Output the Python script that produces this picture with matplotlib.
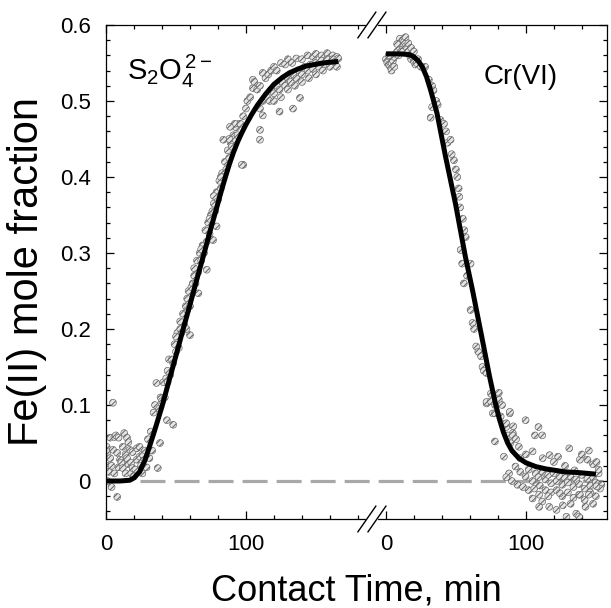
import matplotlib
matplotlib.use("Agg")
import matplotlib.pyplot as plt
import matplotlib.transforms as mtransforms
from matplotlib.ticker import MultipleLocator, FixedLocator, FixedFormatter
import numpy as np

plt.rcParams['font.family'] = ['Liberation Sans', 'DejaVu Sans']
plt.rcParams['mathtext.fontset'] = 'custom'
plt.rcParams['mathtext.rm'] = 'Liberation Sans'
plt.rcParams['mathtext.it'] = 'Liberation Sans'
plt.rcParams['lines.scale_dashes'] = False
plt.rcParams['hatch.linewidth'] = 0.7

# ---------------- data ----------------
# fitted curves (time in min, Fe(II) mole fraction)
s2o4_curve_t = [0, 10, 17, 20, 24, 28, 31, 34, 37, 40, 44, 50, 55, 60, 65, 70, 75, 79,
                82, 85, 88, 91, 94, 97, 100, 104, 108, 114, 120, 126, 131, 137, 143, 149,
                155, 160, 166]
s2o4_curve_y = [0, 0, 0.001, 0.004, 0.012, 0.028, 0.045, 0.062, 0.08, 0.098, 0.125, 0.165,
                0.199, 0.232, 0.266, 0.299, 0.333, 0.359, 0.379, 0.398, 0.416, 0.432, 0.446,
                0.458, 0.469, 0.482, 0.494, 0.509, 0.522, 0.531, 0.537, 0.542, 0.546, 0.548,
                0.55, 0.551, 0.552]

cr_curve_t = [0, 10, 17, 20, 23, 26, 29, 32, 36.5, 42.6, 49.7, 56.8, 62, 69, 74, 78, 81,
              84, 87, 90, 95, 100, 107, 114, 121, 128, 138, 150]
cr_curve_y = [0.562, 0.562, 0.561, 0.558, 0.553, 0.545, 0.532, 0.514, 0.484, 0.427, 0.365,
              0.295, 0.25, 0.185, 0.138, 0.104, 0.082, 0.064, 0.05, 0.04, 0.03, 0.024, 0.019,
              0.016, 0.014, 0.012, 0.011, 0.009]

# measured points (t, y)
s2o4_points = [
    (0.5, 0.045), (1, 0.038), (1, 0.02), (1, 0.0), (2, 0.015), (2, 0.012), (3, 0.057), (3, 0.03),
    (4, 0.02), (4, -0.008), (5, 0.041), (5, 0.103), (6, 0.058), (6, 0.01), (7, 0.06), (8, 0.037),
    (8, -0.021), (9, 0.057), (9, 0.018), (10, 0.028), (11, 0.024), (12, 0.017), (12, 0.045),
    (13, 0.063), (14, 0.035), (14, 0.01), (15, 0.057), (15, 0.03), (16, 0.051), (16, 0.022),
    (17, 0.041), (18, 0.024), (18, 0.01), (19, 0.038), (19, 0.017), (20, 0.006), (21, 0.015),
    (22, 0.043), (22, 0.028), (24, 0.045), (24, 0.032), (25, 0.02), (26, 0.01), (27, 0.03),
    (29, 0.018), (30, 0.055), (32, 0.065), (33, 0.04), (34, 0.09), (35, 0.1), (36, 0.129),
    (37, 0.017), (38.6, 0.05), (43.5, 0.08), (48, 0.074), (26, 0.035), (28, 0.04), (31, 0.03),
    (38, 0.095), (39, 0.11), (40, 0.105), (41, 0.13), (42, 0.11), (43, 0.135), (44, 0.13),
    (45, 0.16), (46, 0.14), (47, 0.16), (48, 0.155), (49, 0.18), (50, 0.17), (51, 0.195),
    (52, 0.175), (53, 0.2), (54, 0.195), (55, 0.22), (56, 0.205), (57, 0.23), (58, 0.225),
    (59, 0.25), (60, 0.23), (61, 0.255), (62, 0.26), (63, 0.27), (64, 0.26), (65, 0.29),
    (66, 0.275), (67, 0.3), (68, 0.29), (69, 0.31), (70, 0.3), (71, 0.33), (72, 0.315),
    (73, 0.34), (74, 0.325), (75, 0.35), (76, 0.355), (77, 0.365), (78, 0.355), (79, 0.38),
    (80, 0.37), (81, 0.395), (82, 0.385), (83, 0.405), (84, 0.4), (85, 0.42), (86, 0.41),
    (87, 0.435), (88, 0.425), (89, 0.445), (90, 0.44), (91, 0.455), (92, 0.45), (93, 0.465),
    (94, 0.455), (95, 0.47),
    (44, 0.145), (50, 0.19), (53, 0.21), (58, 0.24), (63, 0.28), (68, 0.305), (74, 0.345),
    (77, 0.375), (82, 0.4), (88, 0.45), (92, 0.47),
    (98, 0.416), (79, 0.335), (76.5, 0.317), (72, 0.278), (66, 0.247), (60, 0.192),
    (57.5, 0.2), (88.6, 0.466), (83.8, 0.449),
    (96, 0.47), (98, 0.48), (100, 0.49), (101, 0.5), (103, 0.505), (105, 0.517), (105, 0.528),
    (106, 0.525), (108, 0.515), (110, 0.52), (112, 0.537), (114, 0.53), (116, 0.535),
    (118, 0.54), (120, 0.545), (122, 0.54), (125, 0.55), (128, 0.548), (130, 0.555),
    (133, 0.55), (136, 0.556), (140, 0.555), (144, 0.56), (148, 0.558), (150, 0.562),
    (154, 0.56), (158, 0.563), (162, 0.56), (165, 0.558),
    (110, 0.49), (112, 0.5), (115, 0.505), (117, 0.5), (118, 0.515), (120, 0.51), (122, 0.52),
    (124, 0.515), (126, 0.525), (128, 0.52), (130, 0.53), (132, 0.525), (134, 0.535),
    (136, 0.53), (138, 0.54), (140, 0.535), (142, 0.545), (144, 0.54), (146, 0.548),
    (148, 0.542), (150, 0.55), (152, 0.545), (154, 0.553), (156, 0.548), (158, 0.555),
    (160, 0.55), (162, 0.555), (164, 0.552), (166, 0.556), (120, 0.5), (125, 0.505),
    (130, 0.515), (135, 0.52), (140, 0.525), (145, 0.53), (150, 0.535), (155, 0.54),
    (160, 0.545), (165, 0.545),
    (138.6, 0.504), (133.6, 0.49), (124, 0.486), (112, 0.481), (110, 0.462), (110, 0.449),
    (97, 0.416),
]

cr_points = [
    (0, 0.555), (1, 0.55), (2, 0.548), (3, 0.545), (4, 0.55), (5, 0.553), (6, 0.558),
    (7, 0.562), (8, 0.565), (9, 0.56), (10, 0.57), (10, 0.582), (11, 0.575), (12, 0.58),
    (12, 0.568), (13, 0.578), (14, 0.572), (14, 0.584), (15, 0.568), (16, 0.565), (16, 0.576),
    (17, 0.56), (18, 0.555), (18, 0.57), (19, 0.558), (20, 0.552), (21, 0.548), (22, 0.55),
    (2, 0.56), (4, 0.54), (6, 0.545), (8, 0.575), (11, 0.565), (20, 0.565), (23, 0.555),
    (25, 0.545),
    (28, 0.545), (30.7, 0.528), (33, 0.52), (34, 0.514), (36, 0.5), (37, 0.495), (33, 0.492),
    (32, 0.478), (39, 0.475), (41.5, 0.47), (43, 0.46), (44, 0.445), (46.2, 0.449), (47, 0.43),
    (48.6, 0.422), (50, 0.41), (51, 0.4), (52, 0.385), (52.4, 0.374), (53, 0.36), (55, 0.345),
    (56, 0.33), (57, 0.321), (53.4, 0.304), (54.5, 0.286), (60.5, 0.286), (55.7, 0.26),
    (58, 0.27), (60.5, 0.225), (61.9, 0.208), (63, 0.2), (64.5, 0.177), (66, 0.17), (68, 0.164),
    (69, 0.15), (70, 0.145), (71.9, 0.142), (80.7, 0.116), (71.9, 0.102), (76.4, 0.089),
    (88.5, 0.089), (85.9, 0.071), (90.7, 0.063), (75, 0.115), (78, 0.1), (82, 0.085),
    (84, 0.075), (87, 0.06), (89, 0.05),
    (71.9, 0.104), (75, 0.105), (80.7, 0.107), (83, 0.1), (77.9, 0.089), (88.6, 0.091),
    (86, 0.076), (91, 0.072), (99.8, 0.08), (77.9, 0.052), (90.7, 0.06), (93, 0.055),
    (95, 0.045), (109, 0.071), (111.7, 0.06), (106.5, 0.06), (84.3, 0.032), (104.8, 0.039),
    (117, 0.034), (123, 0.032), (131, 0.043), (138.6, 0.028), (144, 0.028), (148, 0.022),
    (134.8, 0.014), (150.5, 0.025), (140, 0.035), (145, 0.04), (128, 0.02), (120, 0.025),
    (112, 0.03), (100, 0.035), (96, 0.03),
    (92.6, 0.019), (96, 0.012), (99.8, 0.006), (102, 0.015), (104.8, 0.0), (107, 0.01),
    (109, 0.005), (112, 0.012), (114, 0.002), (116, 0.008), (118.1, -0.003), (120, 0.01),
    (122, 0.0), (124, 0.006), (126, -0.005), (128, 0.004), (130, -0.002), (132, 0.006),
    (134, -0.008), (136, 0.002), (138, -0.004), (140, 0.008), (142, -0.01), (144, 0.003),
    (146, -0.006), (148, 0.005), (150, -0.002), (152, 0.01), (154, -0.005), (88, 0.01),
    (90, 0.0), (86, 0.005), (94, -0.005), (98, -0.008), (102, -0.012), (106, -0.01),
    (110, -0.006), (114, -0.012), (118, -0.015), (122, -0.012), (126, -0.02), (130, -0.015),
    (134, -0.022), (138, -0.018), (142, -0.025), (146, -0.015), (150, -0.02), (153, -0.01),
    (104.8, -0.023), (109.5, -0.018), (111.7, -0.027), (116.7, -0.034), (109.5, -0.034),
    (121.9, -0.038), (126.4, -0.032), (129, -0.047), (136, -0.043), (138, -0.047),
    (142.6, -0.034), (145, -0.018), (148, -0.03), (138.6, -0.018), (132, -0.03),
    (124.3, -0.016), (116, -0.02), (150.5, -0.007), (152, 0.015),
]

baseline_t = [24, 355]      # extent of the dashed zero line (axis units)
baseline_y = [0, 0]

x_tick_labels = ['0', '100', '0', '100']
y_tick_values = [0, 0.1, 0.2, 0.3, 0.4, 0.5, 0.6]
y_tick_labels = ['0', '0.1', '0.2', '0.3', '0.4', '0.5', '0.6']

RIGHT_OFFSET = 200  # where the Cr(VI) panel's t=0 sits on the shared axis

# ---------------- figure ----------------
fig = plt.figure(figsize=(6.11, 6.08), dpi=100)
ax = fig.add_axes([0.1735, 0.1464, 0.82, 0.8125])

ax.plot(baseline_t, baseline_y, color='#a8a8a8', lw=2.3,
        linestyle=(0, (18, 6.5)), zorder=1)

st = np.array([p[0] for p in s2o4_points])
sy = np.array([p[1] for p in s2o4_points])
ct = np.array([p[0] for p in cr_points]) + RIGHT_OFFSET
cy = np.array([p[1] for p in cr_points])

for xx, yy in ((st, sy), (ct, cy)):
    ax.scatter(xx, yy, s=24, marker='o', facecolors='#e6e6e6', edgecolors='#606060',
               hatch='//////', linewidths=0.45, zorder=2)

ax.plot(s2o4_curve_t, s2o4_curve_y, color='black', lw=3.6, zorder=3,
        solid_capstyle='butt')
ax.plot(np.array(cr_curve_t) + RIGHT_OFFSET, cr_curve_y, color='black', lw=3.6, zorder=3,
        solid_capstyle='butt')

ax.set_xlim(0, 358)
ax.set_ylim(-0.05, 0.6)

ax.xaxis.set_major_locator(FixedLocator([0, 100, RIGHT_OFFSET, RIGHT_OFFSET + 100]))
ax.xaxis.set_major_formatter(FixedFormatter(x_tick_labels))
ax.xaxis.set_minor_locator(MultipleLocator(20))
ax.yaxis.set_major_locator(FixedLocator(y_tick_values))
ax.yaxis.set_major_formatter(FixedFormatter(y_tick_labels))
ax.yaxis.set_minor_locator(MultipleLocator(0.02))

ax.tick_params(which='both', direction='in', top=True, right=True, width=0.9,
               labelsize=16, colors='black')
ax.tick_params(which='major', length=5.5)
ax.tick_params(which='minor', length=3)
ax.tick_params(axis='x', which='major', pad=11)
ax.tick_params(axis='y', which='major', pad=11)
for sp in ax.spines.values():
    sp.set_linewidth(0.9)

ax.set_xlabel('Contact Time, min', fontsize=26, labelpad=13)
ax.set_ylabel('Fe(II) mole fraction', fontsize=30, labelpad=9)

ax.text(15, 0.528, r'$\mathregular{S_2O_4^{\,2-}}$', fontsize=21, va='baseline', ha='left')
ax.text(RIGHT_OFFSET + 70, 0.523, 'Cr(VI)', fontsize=20, va='baseline', ha='left')

# axis break marks
trans = mtransforms.blended_transform_factory(ax.transData, ax.transAxes)
for yb in (0, 1):
    ax.plot([187.3, 192.7], [yb, yb], color='white', lw=3, transform=trans,
            clip_on=False, zorder=6)
    for xc in (186.4, 193.6):
        ax.plot([xc - 6.4, xc + 6.4], [yb - 0.026, yb + 0.026], color='black', lw=1.0,
                transform=trans, clip_on=False, zorder=7)

fig.savefig('out.png', dpi=100)
